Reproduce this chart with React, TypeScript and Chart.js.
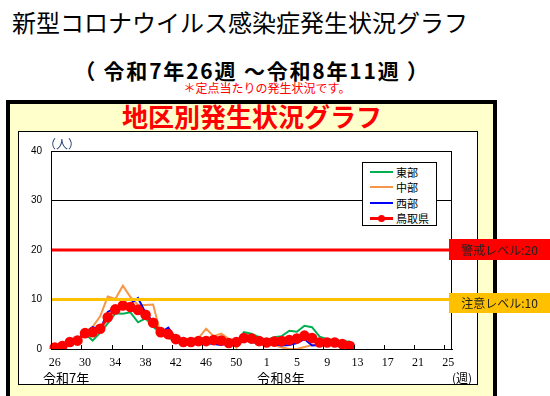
import React, { useEffect, useRef } from "react";
import { Chart, registerables } from "chart.js";

Chart.register(...registerables);

// 週 (categories): 令和7年26週〜53週, 令和8年1週〜25週
const weeks = [
  "26", "27", "28", "29", "30", "31", "32", "33", "34", "35", "36", "37", "38", "39",
  "40", "41", "42", "43", "44", "45", "46", "47", "48", "49", "50", "51", "52", "53",
  "1", "2", "3", "4", "5", "6", "7", "8", "9", "10", "11", "12", "13", "14", "15",
  "16", "17", "18", "19", "20", "21", "22", "23", "24", "25",
];

// 定点当たり患者数
const tobu = [
  0.3, 0.6, 1.5, 1.8, 3.1, 1.7, 3.3, 5.2, 7.2, 7.1, 7.4, 5.4, 6.2, 4.5, 3.2, 2.2,
  1.8, 1.4, 1.3, 1.4, 1.3, 1.5, 1.4, 1.4, 1.3, 3.4, 3.1, 2.4, 1.8, 2.4, 2.6, 3.7,
  3.5, 4.7, 4.4, 2.5, 2.0, 1.6, 1.5, 1.5,
];
const chubu = [
  0.3, 0.7, 1.3, 1.8, 3.3, 4.5, 6.6, 10.6, 10.1, 12.8, 10.5, 8.9, 8.9, 9.0, 3.0, 2.5,
  2.2, 2.0, 2.0, 2.2, 4.1, 2.6, 3.1, 2.0, 0.3, 1.8, 1.4, 1.0, 0.9, 0.8, 0.3, 0.0,
  0.0, 0.4, 0.8, 0.9, 0.9, 0.8, 0.7, 0.5,
];
const seibu = [
  0.3, 0.7, 1.5, 2.0, 3.3, 4.4, 3.9, 7.5, 8.3, 8.8, 9.2, 10.3, 7.3, 5.5, 3.3, 4.3,
  2.1, 1.5, 1.2, 0.8, 1.2, 1.0, 0.8, 1.2, 1.0, 1.8, 1.4, 1.2, 0.9, 1.0, 0.7, 0.8,
  1.2, 2.0, 0.7, 0.8, 0.8, 0.8, 0.6, 0.0,
];
const tottori = [
  0.3, 0.6, 1.4, 1.7, 3.2, 3.4, 4.1, 6.4, 8.0, 8.8, 8.5, 7.9, 6.9, 5.3, 3.4, 3.0,
  2.0, 1.4, 1.4, 1.6, 1.6, 1.8, 1.7, 1.2, 1.4, 2.2, 2.1, 1.6, 1.3, 1.5, 1.6, 1.8,
  2.1, 2.7, 2.2, 1.3, 1.3, 1.3, 1.0, 0.6,
];

const seriesNames = ["東部", "中部", "西部", "鳥取県"];
const seriesColors = ["#00B050", "#F79646", "#0000FF", "#FF0000"];

const alertLevel = 20;
const cautionLevel = 10;
const yMax = 40;
const yStep = 10;

const JP = '"Noto Sans CJK JP", "Noto Sans", sans-serif';

export default function App() {
  const ref = useRef<HTMLCanvasElement>(null);

  useEffect(() => {
    const canvas = ref.current;
    if (!canvas) return;

    const overlay = {
      id: "overlay",
      afterDatasetsDraw(chart: any) {
        const { ctx, chartArea: a, scales } = chart;
        const x = scales.x;
        const y = scales.y;
        ctx.save();
        const levels: [number, string][] = [
          [alertLevel, "#FF0000"],
          [cautionLevel, "#FFC000"],
        ];
        levels.forEach(([v, c]) => {
          const py = y.getPixelForValue(v);
          ctx.strokeStyle = c;
          ctx.lineWidth = 3;
          ctx.beginPath();
          ctx.moveTo(a.left, py);
          ctx.lineTo(a.right, py);
          ctx.stroke();
        });
        ctx.strokeStyle = "#000";
        ctx.lineWidth = 1;
        ctx.strokeRect(
          Math.round(a.left) + 0.5,
          Math.round(a.top) + 0.5,
          Math.round(a.right - a.left) - 1,
          Math.round(a.bottom - a.top)
        );
        const half = (x.getPixelForValue(1) - x.getPixelForValue(0)) / 2;
        for (let i = 4; i < weeks.length; i += 4) {
          const px = Math.round(x.getPixelForValue(i) - half) + 0.5;
          ctx.beginPath();
          ctx.moveTo(px, a.bottom);
          ctx.lineTo(px, a.bottom - 4);
          ctx.stroke();
        }
        ctx.restore();
      },
    };

    const series = [tobu, chubu, seibu, tottori];
    const chart = new Chart(canvas, {
      type: "line",
      data: {
        labels: weeks,
        datasets: series.map((d, k) => ({
          label: seriesNames[k],
          data: d,
          borderColor: seriesColors[k],
          backgroundColor: seriesColors[k],
          borderWidth: k === 3 ? 3 : 2,
          pointRadius: k === 3 ? 3.8 : 0,
          pointHoverRadius: k === 3 ? 3.8 : 0,
          tension: 0,
          fill: false,
          order: 3 - k,
        })),
      },
      options: {
        animation: false,
        responsive: false,
        maintainAspectRatio: false,
        layout: { padding: { top: 20, right: 26, left: 0, bottom: 0 } },
        plugins: {
          legend: { display: false },
          tooltip: { enabled: false },
        },
        scales: {
          x: {
            type: "category",
            offset: true,
            grid: { display: false },
            border: { display: true, color: "#000", width: 1 },
            ticks: {
              autoSkip: false,
              maxRotation: 0,
              minRotation: 0,
              padding: -1,
              color: "#000",
              font: { family: '"Liberation Serif", serif', size: 12 },
              callback: (_v: any, i: number) => (i % 4 === 0 ? weeks[i] : ""),
            },
            afterFit: (s: any) => {
              s.height = 36;
            },
          },
          y: {
            min: 0,
            max: yMax,
            ticks: {
              stepSize: yStep,
              padding: 9,
              color: "#000",
              font: { family: '"Liberation Sans", Arial, sans-serif', size: 10 },
            },
            grid: { color: "#000", lineWidth: 1, drawTicks: false },
            border: { display: true, color: "#000", width: 1 },
            afterFit: (s: any) => {
              s.width = 33;
            },
          },
        },
      },
      plugins: [overlay],
    } as any);

    return () => chart.destroy();
  }, []);

  const abs = (o: React.CSSProperties): React.CSSProperties => ({
    position: "absolute",
    whiteSpace: "nowrap",
    ...o,
  });

  return (
    <div
      style={{
        position: "relative",
        width: 550,
        height: 396,
        overflow: "hidden",
        fontFamily: JP,
        background: "#fff",
      }}
    >
      <style>{`body{margin:0}`}</style>
      <div style={abs({ left: 12, top: 6, fontSize: 24, lineHeight: "32px", color: "#000" })}>
        新型コロナウイルス感染症発生状況グラフ
      </div>
      <div
        style={abs({
          left: 0,
          width: 504,
          top: 56,
          textAlign: "center",
          fontSize: 21,
          fontWeight: 700,
          lineHeight: "28px",
          color: "#000",
          letterSpacing: "1.8px",
        })}
      >
        （ 令和7年26週 ～令和8年11週 ）
      </div>
      <div
        style={abs({
          left: 0,
          width: 534,
          top: 81,
          textAlign: "center",
          fontSize: 12,
          lineHeight: "14px",
          color: "#FF0000",
        })}
      >
        ＊定点当たりの発生状況です。
      </div>
      <div
        style={abs({
          left: 6,
          top: 100,
          width: 491,
          height: 310,
          boxSizing: "border-box",
          border: "4px solid #000",
          background: "#FFFFCC",
        })}
      />
      <div
        style={abs({
          left: 0,
          width: 504,
          top: 101,
          textAlign: "center",
          fontSize: 26,
          fontWeight: 700,
          lineHeight: "30px",
          color: "#FF0000",
        })}
      >
        地区別発生状況グラフ
      </div>
      <div
        style={abs({
          left: 18,
          top: 131,
          width: 460,
          height: 254,
          boxSizing: "border-box",
          border: "1px solid #000",
          background: "#fff",
        })}
      />
      <canvas
        ref={ref}
        width={460}
        height={254}
        style={{ position: "absolute", left: 18, top: 131, width: 460, height: 254 }}
      />
      <div style={abs({ left: 44, top: 137, fontSize: 12, lineHeight: "14px", color: "#1F3B73" })}>
        （人）
      </div>
      <div style={abs({ left: 43, top: 370, fontSize: 13, lineHeight: "15px", color: "#000" })}>
        令和7年
      </div>
      <div
        style={abs({ left: 257, top: 370, fontSize: 13, lineHeight: "15px", color: "#000", letterSpacing: "0.5px" })}
      >
        令和8年
      </div>
      <div style={abs({ left: 452, top: 370, fontSize: 12, lineHeight: "15px", color: "#000" })}>
        (週)
      </div>
      <div
        style={abs({
          left: 362,
          top: 162,
          width: 75,
          height: 64,
          boxSizing: "border-box",
          border: "1px solid #000",
          background: "#fff",
          padding: "1px 0 0 7px",
        })}
      >
        {seriesNames.map((n, k) => (
          <div key={n} style={{ display: "flex", alignItems: "center", height: 15.5 }}>
            <div style={{ position: "relative", width: 23, height: 8, marginRight: 3 }}>
              <div
                style={{
                  position: "absolute",
                  left: 0,
                  right: 0,
                  top: k === 3 ? 2.5 : 3,
                  height: k === 3 ? 3 : 2,
                  background: seriesColors[k],
                }}
              />
              {k === 3 && (
                <div
                  style={{
                    position: "absolute",
                    left: 8,
                    top: 0.5,
                    width: 7,
                    height: 7,
                    borderRadius: "50%",
                    background: seriesColors[k],
                  }}
                />
              )}
            </div>
            <span style={{ fontSize: 11, lineHeight: "14px", color: "#000" }}>{n}</span>
          </div>
        ))}
      </div>
      <div
        style={abs({
          left: 449,
          top: 239,
          width: 101,
          height: 21,
          background: "#FF0000",
          textAlign: "center",
          fontSize: 12,
          lineHeight: "21px",
          color: "#222",
        })}
      >
        警戒レベル:20
      </div>
      <div
        style={abs({
          left: 449,
          top: 293,
          width: 101,
          height: 20,
          background: "#FFC000",
          textAlign: "center",
          fontSize: 12,
          lineHeight: "20px",
          color: "#222",
        })}
      >
        注意レベル:10
      </div>
    </div>
  );
}
